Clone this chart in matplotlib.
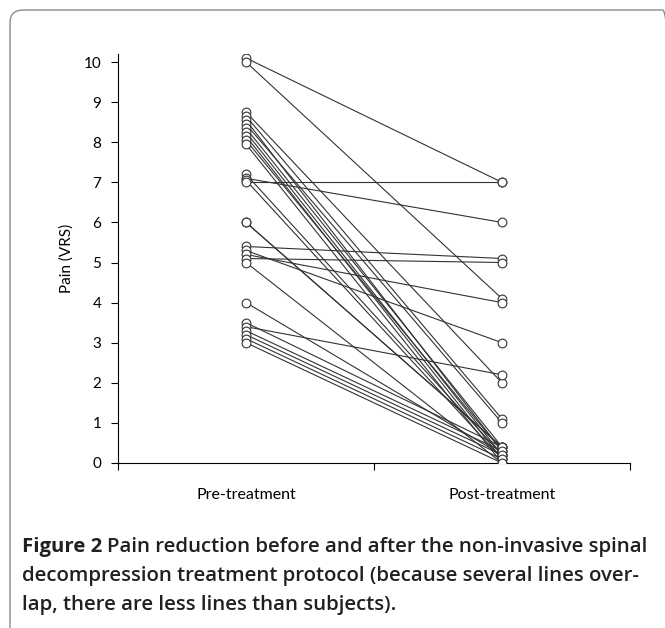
import matplotlib.pyplot as plt
from matplotlib.patches import FancyBboxPatch

# Data: each subject's pain score before and after treatment
pre = [10.1, 10.0, 8.75, 8.65, 8.55, 8.45, 8.35, 8.25, 8.15, 8.05, 7.95,
       7.2, 7.1, 7.05, 7.0, 6.0, 6.0, 5.4, 5.3, 5.2, 5.1, 5.0,
       4.0, 3.5, 3.4, 3.3, 3.2, 3.1, 3.0]
post = [7.0, 4.1, 2.0, 1.1, 0.3, 1.0, 0.4, 0.2, 0.1, 0.3, 0.0,
        0.2, 6.0, 0.1, 7.0, 0.4, 0.4, 5.1, 3.0, 4.0, 5.0, 0.0,
        0.2, 0.4, 2.2, 0.3, 0.2, 0.1, 0.0]
categories = ['Pre-treatment', 'Post-treatment']
yticks = list(range(0, 11))

plt.rcParams['font.family'] = ['Lato', 'DejaVu Sans']

W, H = 665, 628
fig = plt.figure(figsize=(W / 100, H / 100), dpi=100)

# rounded frame, open at the right and bottom (runs off the canvas)
frame = FancyBboxPatch((10 / W, 1 - 660 / H), (676 - 10) / W, (660 - 10) / H,
                       boxstyle='round,pad=0,rounding_size=0.02',
                       transform=fig.transFigure, fill=False,
                       edgecolor='#8a8a8a', linewidth=1.0)
fig.add_artist(frame)

ax = fig.add_axes([118 / W, 1 - 463 / H, (630 - 118) / W, (463 - 54) / H])

for a, b in zip(pre, post):
    ax.plot([1, 2], [a, b], color='#333333', linewidth=0.8, zorder=2)
ax.plot([1] * len(pre), pre, 'o', markersize=6.3, markerfacecolor='white',
        markeredgecolor='#333333', markeredgewidth=0.8, linestyle='none', zorder=3)
ax.plot([2] * len(post), post, 'o', markersize=6.3, markerfacecolor='white',
        markeredgecolor='#333333', markeredgewidth=0.8, linestyle='none', zorder=3)

ax.set_xlim(0.5, 2.5)
ax.set_ylim(0, 10.2)
ax.set_yticks(yticks)
ax.set_xticks([0.5, 1.5, 2.5])
ax.set_xticklabels([])
ax.set_xticks([1, 2], minor=True)
ax.set_xticklabels(categories, minor=True)
ax.tick_params(axis='x', which='minor', length=0, pad=18, labelsize=11.5)
ax.tick_params(axis='x', which='major', length=5, width=0.8, direction='out')
ax.tick_params(axis='y', length=5, width=0.8, labelsize=11, pad=7)
for side in ['top', 'right']:
    ax.spines[side].set_visible(False)
for side in ['left', 'bottom']:
    ax.spines[side].set_linewidth(0.8)
ax.set_ylabel('Pain (VRS)', fontsize=11, labelpad=7)

# caption with bold lead-in, sized so the first line spans the reference width
cap_x = 22 / W
cap_font = ['Open Sans', 'DejaVu Sans']
line1 = 'Pain reduction before and after the non-invasive spinal'
size = 13.0
bold = fig.text(cap_x, 1 - 552 / H, 'Figure 2', fontsize=size, fontweight='bold',
                family=cap_font, color='#231f20', va='baseline')
rest = fig.text(0, 1 - 552 / H, line1, fontsize=size, fontweight='semibold',
                family=cap_font, color='#231f20', va='baseline')
fig.canvas.draw()
r = fig.canvas.get_renderer()
total = bold.get_window_extent(r).width + 5 + rest.get_window_extent(r).width
size = size * 626 / total
bold.set_fontsize(size)
rest.set_fontsize(size)
fig.canvas.draw()
bb = bold.get_window_extent(r)
rest.set_x((bb.x1 + 5) / W)
fig.text(cap_x, 1 - 581 / H,
         'decompression treatment protocol (because several lines over-',
         fontsize=size, fontweight='semibold', family=cap_font,
         color='#231f20', va='baseline')
fig.text(cap_x, 1 - 610 / H,
         'lap, there are less lines than subjects).',
         fontsize=size, fontweight='semibold', family=cap_font,
         color='#231f20', va='baseline')

fig.savefig('out.png', dpi=100)
plt.close(fig)
